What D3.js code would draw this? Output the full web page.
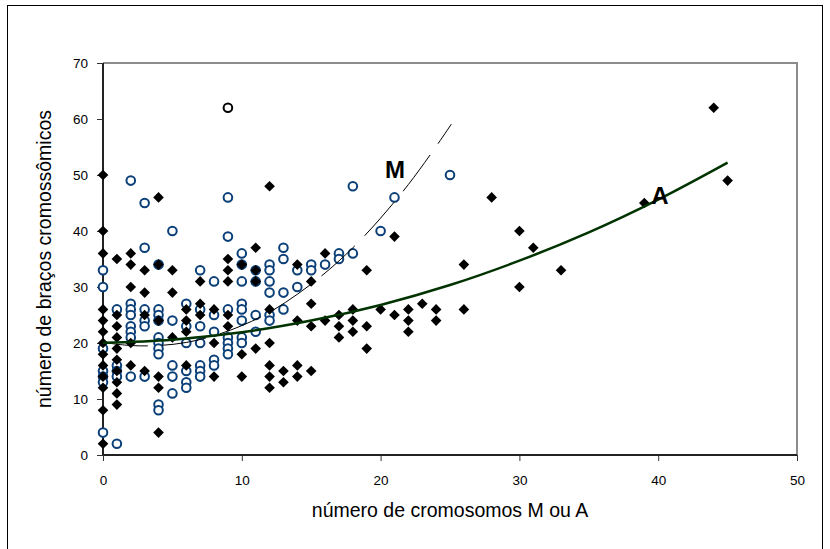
<!DOCTYPE html>
<html>
<head>
<meta charset="utf-8">
<script src="https://cdn.jsdelivr.net/npm/d3@7"></script>
<style>
  html, body { margin: 0; padding: 0; background: #fff; }
  svg { display: block; font-family: "Liberation Sans", Arial, sans-serif; }
</style>
</head>
<body>
<svg id="chart" width="830" height="549"></svg>
<script>
// Acrocentric (A) chromosome counts vs. number of chromosome arms
const seriesA = [
  [0,50],[0,40],[0,36],[0,26],[0,24],[0,22],[0,20],[0,18],[0,16],[0,14],[0,12],[0,8],[0,2],
  [1,35],[1,25],[1,23],[1,21],[1,19],[1,17],[1,15],[1,13],[1,11],[1,9],
  [2,36],[2,34],[2,30],[2,20],[2,16],
  [3,33],[3,29],[3,25],[3,15],
  [4,46],[4,34],[4,24],[4,14],[4,12],[4,4],
  [5,33],[5,29],[5,21],
  [6,26],[6,24],[6,22],[6,16],
  [7,31],[7,27],[7,25],
  [8,26],[8,20],[8,14],
  [9,35],[9,33],[9,31],[9,25],[9,23],
  [10,34],[10,18],[10,14],
  [11,37],[11,33],[11,31],[11,19],
  [12,48],[12,26],[12,20],[12,16],[12,14],[12,12],
  [13,15],[13,13],
  [14,34],[14,24],[14,16],[14,14],
  [15,31],[15,27],[15,23],[15,15],
  [16,36],[16,24],
  [17,25],[17,23],[17,21],
  [18,26],[18,24],[18,22],
  [19,33],[19,23],[19,19],
  [20,26],
  [21,39],[21,25],
  [22,26],[22,24],[22,22],
  [23,27],
  [24,26],[24,24],
  [26,34],[26,26],
  [28,46],[30,40],[30,30],[31,37],[33,33],[39,45],[44,62],[45,49]
];

// Metacentric (M) chromosome counts vs. number of chromosome arms
const seriesM = [
  [0,33],[0,30],[0,19],[0,15],[0,14],[0,13],[0,4],
  [1,26],[1,16],[1,15],[1,14],[1,2],
  [2,49],[2,27],[2,26],[2,25],[2,23],[2,22],[2,21],[2,14],
  [3,45],[3,37],[3,26],[3,24],[3,23],[3,14],
  [4,34],[4,26],[4,25],[4,24],[4,21],[4,20],[4,19],[4,18],[4,9],[4,8],
  [5,40],[5,24],[5,16],[5,14],[5,11],
  [6,27],[6,23],[6,20],[6,15],[6,13],[6,12],
  [7,33],[7,26],[7,23],[7,20],[7,16],[7,15],[7,14],
  [8,31],[8,25],[8,22],[8,17],[8,16],
  [9,46],[9,39],[9,26],[9,21],[9,20],[9,19],[9,18],
  [10,36],[10,34],[10,31],[10,27],[10,26],[10,24],[10,21],[10,20],
  [11,33],[11,31],[11,25],[11,22],
  [12,34],[12,33],[12,31],[12,29],[12,25],[12,24],
  [13,37],[13,35],[13,29],[13,26],
  [14,33],[14,30],
  [15,34],[15,33],
  [16,34],
  [17,36],[17,35],
  [18,48],[18,36],
  [20,40],[21,46],[25,50]
];

// Single highlighted specimen
const outlier = [[9,62]];

// Trend curves (points along each fitted line)
const trendA = [[0,20.05],[5,20.6],[10,21.9],[15,24.0],[20,26.8],[25,30.35],[30,34.7],[35,39.75],[40,45.6],[45,52.2]];
const trendM = [[0,20.1],[2,19.55],[4,19.55],[6,20.1],[8,21.3],[10,23.1],[12,25.5],[14,28.7],[16,32.5],[18,37.0],[20,42.3],[22,48.3],[24,55.1],[25.1,59.1]];

const xTicks = [0,10,20,30,40,50];
const yTicks = [0,10,20,30,40,50,60,70];
const xTitle = "número de cromosomos M ou A";
const yTitle = "número de braços cromossômicos";

const svg = d3.select("#chart");
const plot = { left: 103, right: 797, top: 63, bottom: 455 };

const x = d3.scaleLinear().domain([0, 50]).range([plot.left, plot.right]);
const y = d3.scaleLinear().domain([0, 70]).range([plot.bottom, plot.top]);

// outer frame (runs past the bottom edge)
svg.append("rect")
  .attr("x", 7.5).attr("y", 5.5).attr("width", 815).attr("height", 560)
  .attr("fill", "none").attr("stroke", "#000").attr("stroke-width", 1);

// plot frame (top/right grey)
svg.append("path")
  .attr("d", `M${plot.left},${plot.top}H${plot.right}V${plot.bottom}`)
  .attr("fill", "none").attr("stroke", "#8c8c8c").attr("stroke-width", 2);

// axes
const yAxis = d3.axisLeft(y).tickValues(yTicks).tickSize(6).tickPadding(9);
const xAxis = d3.axisBottom(x).tickValues(xTicks).tickSize(6).tickPadding(14);

const gy = svg.append("g").attr("transform", `translate(${plot.left},0)`).call(yAxis);
const gx = svg.append("g").attr("transform", `translate(0,${plot.bottom})`).call(xAxis);
[gx, gy].forEach(g => {
  g.select(".domain").attr("stroke", "#222").attr("stroke-width", 2);
  g.selectAll(".tick line").attr("stroke", "#333").attr("stroke-width", 1);
  g.selectAll(".tick text").attr("font-size", 13.5).attr("fill", "#000")
    .attr("font-family", "'Liberation Sans', Arial, sans-serif");
});
gy.select(".domain").attr("d", `M0,${plot.top}V${plot.bottom}`);
gx.select(".domain").attr("d", `M${plot.left},0H${plot.right}`);

// axis titles
svg.append("text")
  .attr("x", 450).attr("y", 517)
  .attr("text-anchor", "middle").attr("font-size", 19.5)
  .text(xTitle);
svg.append("text")
  .attr("transform", "translate(51,259) rotate(-90)")
  .attr("text-anchor", "middle").attr("font-size", 19.5)
  .text(yTitle);

const line = d3.line().x(d => x(d[0])).y(d => y(d[1])).curve(d3.curveCatmullRom);

// M points (open blue circles)
svg.append("g").selectAll("circle").data(seriesM).join("circle")
  .attr("cx", d => x(d[0])).attr("cy", d => y(d[1])).attr("r", 4.3)
  .attr("fill", "#fff").attr("stroke", "#0a3f78").attr("stroke-width", 2);

// outlier (open black circle)
svg.append("g").selectAll("circle").data(outlier).join("circle")
  .attr("cx", d => x(d[0])).attr("cy", d => y(d[1])).attr("r", 4.3)
  .attr("fill", "#fff").attr("stroke", "#000").attr("stroke-width", 2);

// A points (filled black diamonds)
const diamond = d3.symbol().type(d3.symbolDiamond2).size(72);
svg.append("g").selectAll("path").data(seriesA).join("path")
  .attr("transform", d => `translate(${x(d[0])},${y(d[1])})`)
  .attr("d", diamond).attr("fill", "#000");

// trend lines
svg.append("path").datum(trendM)
  .attr("d", line).attr("fill", "none")
  .attr("stroke", "#000").attr("stroke-width", 1)
  .attr("stroke-dasharray", "45,14");
svg.append("path").datum(trendA)
  .attr("d", line).attr("fill", "none")
  .attr("stroke", "#003300").attr("stroke-width", 2.5);

// curve labels
svg.append("text").attr("x", 395).attr("y", 178).attr("text-anchor", "middle")
  .attr("font-size", 24).attr("font-weight", "bold").text("M");
svg.append("text").attr("x", 660).attr("y", 204).attr("text-anchor", "middle")
  .attr("font-size", 24).attr("font-weight", "bold").text("A");
</script>
</body>
</html>
